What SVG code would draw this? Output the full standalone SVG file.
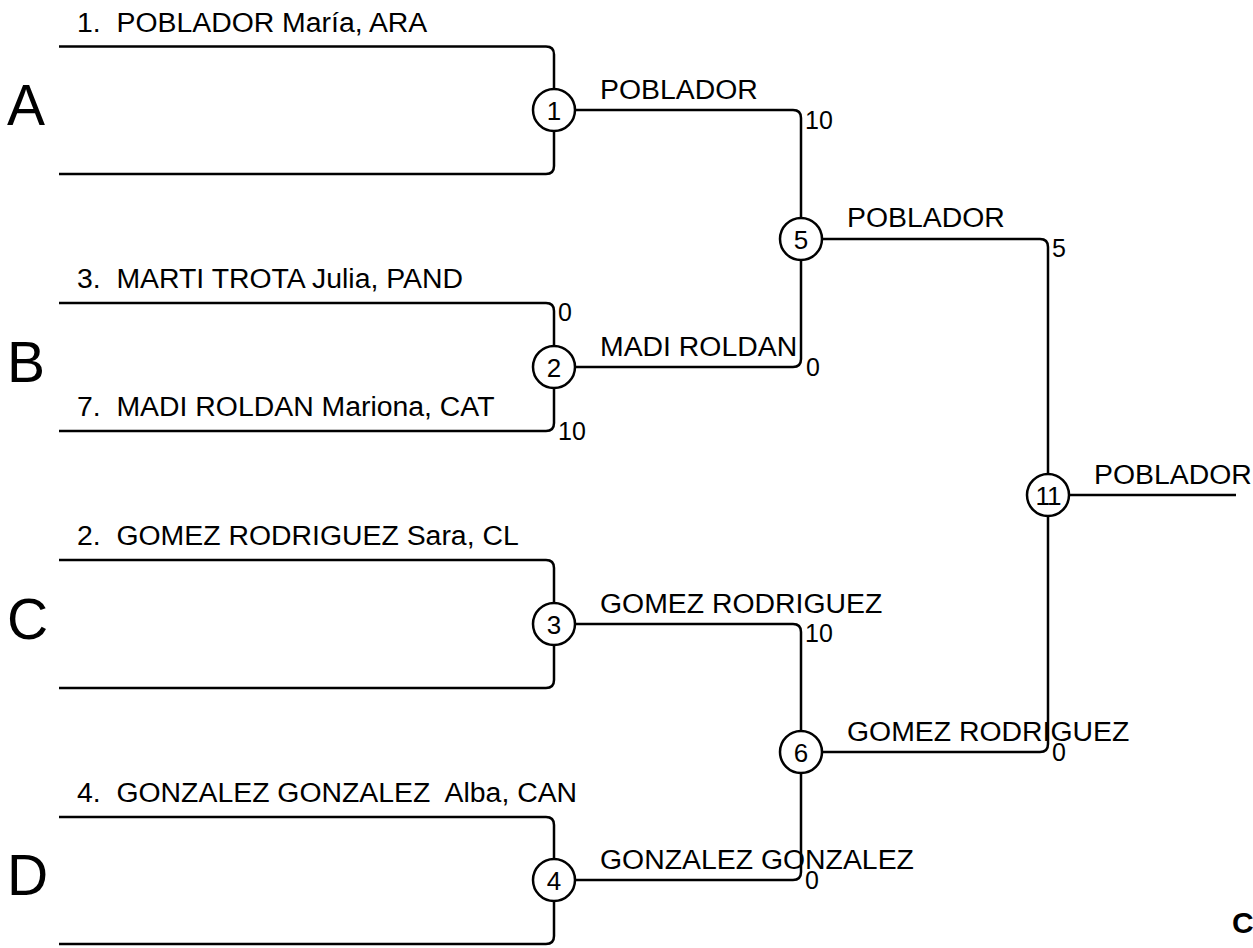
<svg xmlns="http://www.w3.org/2000/svg" width="1253" height="948" viewBox="0 0 1253 948">
<style>
.ln{fill:none;stroke:#000;stroke-width:2.5;stroke-linejoin:round}
.c{fill:#fff;stroke:#000;stroke-width:2.5}
text{font-family:"Liberation Sans",Arial,sans-serif;fill:#000;white-space:pre}
.nm{font-size:28.4px}
.lb{font-size:28.4px}
.sc{font-size:25px}
.cn{font-size:26px;text-anchor:middle}
.big{font-size:57px}
</style>
<rect width="1253" height="948" fill="#fff"/>
<g id="connectors">
<path class="ln" d="M59,46.5 H546 Q554,46.5 554,54.5 V166 Q554,174 546,174 H59"/>
<path class="ln" d="M59,303 H546 Q554,303 554,311 V423 Q554,431 546,431 H59"/>
<path class="ln" d="M59,560 H546 Q554,560 554,568 V680 Q554,688 546,688 H59"/>
<path class="ln" d="M59,817 H546 Q554,817 554,825 V936 Q554,944 546,944 H59"/>
<path class="ln" d="M554,110 H793 Q801,110 801,118 V359 Q801,367 793,367 H554"/>
<path class="ln" d="M554,624 H793 Q801,624 801,632 V872 Q801,880 793,880 H554"/>
<path class="ln" d="M801,239 H1040 Q1048,239 1048,247 V744 Q1048,752 1040,752 H801"/>
<path class="ln" d="M1048,495 H1236"/>
</g>
<g id="labels">
<text class="big" x="7" y="125">A</text>
<text class="big" x="7" y="382">B</text>
<text class="big" x="7" y="639">C</text>
<text class="big" x="7" y="895">D</text>
<text class="nm" x="77" y="31.5">1.  POBLADOR María, ARA</text>
<text class="nm" x="77" y="288">3.  MARTI TROTA Julia, PAND</text>
<text class="nm" x="77" y="416">7.  MADI ROLDAN Mariona, CAT</text>
<text class="nm" x="77" y="545">2.  GOMEZ RODRIGUEZ Sara, CL</text>
<text class="nm" x="77" y="801.5">4.  GONZALEZ GONZALEZ  Alba, CAN</text>
<text class="lb" x="600" y="99">POBLADOR</text>
<text class="lb" x="600" y="355.5">MADI ROLDAN</text>
<text class="lb" x="600" y="612.5">GOMEZ RODRIGUEZ</text>
<text class="lb" x="600" y="868.5">GONZALEZ GONZALEZ</text>
<text class="lb" x="847" y="227">POBLADOR</text>
<text class="lb" x="847" y="740.5">GOMEZ RODRIGUEZ</text>
<text class="lb" x="1094" y="483.5">POBLADOR</text>
<text class="sc" x="805" y="129">10</text>
<text class="sc" x="558" y="321">0</text>
<text class="sc" x="558" y="440">10</text>
<text class="sc" x="806" y="376">0</text>
<text class="sc" x="1052" y="257">5</text>
<text class="sc" x="805" y="642">10</text>
<text class="sc" x="805" y="889">0</text>
<text class="sc" x="1052" y="761">0</text>
<text x="1232" y="933" style="font-size:30px;font-weight:bold">C</text>
</g>
<g id="node1"><circle class="c" cx="554" cy="110" r="21"/><text class="cn" x="554" y="119.5">1</text></g>
<g id="node2"><circle class="c" cx="554" cy="367" r="21"/><text class="cn" x="554" y="376.5">2</text></g>
<g id="node3"><circle class="c" cx="554" cy="624" r="21"/><text class="cn" x="554" y="633.5">3</text></g>
<g id="node4"><circle class="c" cx="554" cy="880" r="21"/><text class="cn" x="554" y="889.5">4</text></g>
<g id="node5"><circle class="c" cx="801" cy="239" r="21"/><text class="cn" x="801" y="248.5">5</text></g>
<g id="node6"><circle class="c" cx="801" cy="752" r="21"/><text class="cn" x="801" y="761.5">6</text></g>
<g id="node11"><circle class="c" cx="1048" cy="495" r="21"/><text class="cn" x="1048" y="504.5" style="letter-spacing:-1px">11</text></g>
</svg>
